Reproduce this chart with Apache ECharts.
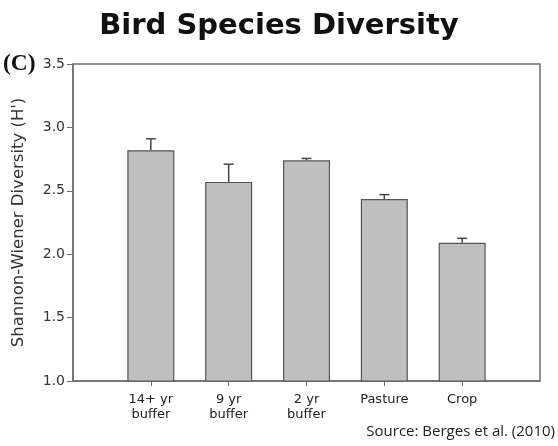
<!DOCTYPE html>
<html>
<head>
<meta charset="utf-8">
<script src="https://cdn.jsdelivr.net/npm/echarts@6/dist/echarts.min.js"></script>
<style>
html,body{margin:0;padding:0;background:#fff;}
#chart{width:558px;height:446px;}
</style>
</head>
<body>
<div id="chart"></div>
<script>
var categories = ['14+ yr\nbuffer', '9 yr\nbuffer', '2 yr\nbuffer', 'Pasture', 'Crop'];
var positions = [1, 2, 3, 4, 5];
var meanValues = [2.82, 2.57, 2.74, 2.435, 2.09];
var errorValues = [0.09, 0.14, 0.015, 0.035, 0.035];
var yTicks = [1.0, 1.5, 2.0, 2.5, 3.0, 3.5];

var barData = positions.map(function (p, i) { return [p, meanValues[i]]; });
var errData = positions.map(function (p, i) { return [p, meanValues[i], meanValues[i] + errorValues[i]]; });

var sans = '"DejaVu Sans", "Liberation Sans", Arial, sans-serif';
var chart = echarts.init(document.getElementById('chart'), null, {renderer: 'canvas'});
var axisColor = '#6e6e6e';
chart.setOption({
  animation: false,
  backgroundColor: '#fff',
  title: {
    text: 'Bird Species Diversity',
    left: 'center',
    top: 7,
    textStyle: {fontFamily: sans, fontWeight: 'bold', fontSize: 29, color: '#111'}
  },
  graphic: [
    {type: 'text', left: 3, top: 52, style: {text: '(C)', font: 'bold 23.5px "Liberation Serif", "DejaVu Serif", serif', fill: '#111'}},
    {type: 'text', right: 3, top: 424, style: {text: 'Source: Berges et al. (2010)', font: '15px "Open Sans", "Liberation Sans", sans-serif', fill: '#222'}}
  ],
  grid: {left: 73, right: 18, top: 64, bottom: 65, show: true, borderColor: axisColor, borderWidth: 1.5, backgroundColor: 'transparent'},
  xAxis: {
    type: 'value', min: 0, max: 6, interval: 1,
    splitLine: {show: false},
    axisLine: {show: true, lineStyle: {color: axisColor, width: 1.5}},
    axisTick: {show: true, length: 5, lineStyle: {color: axisColor}, customValues: positions},
    axisLabel: {
      customValues: positions,
      formatter: function (v) { var i = positions.indexOf(v); return i >= 0 ? categories[i] : ''; },
      fontFamily: sans, fontSize: 13, color: '#222', lineHeight: 15, margin: 11
    }
  },
  yAxis: {
    type: 'value', min: 1.0, max: 3.5, interval: 0.5,
    name: "Shannon-Wiener Diversity (H')",
    nameLocation: 'middle', nameGap: 46,
    nameTextStyle: {fontFamily: sans, fontSize: 16.5, color: '#333'},
    splitLine: {show: false},
    axisLine: {show: true, lineStyle: {color: axisColor, width: 1.5}},
    axisTick: {show: true, length: 6, lineStyle: {color: axisColor}},
    axisLabel: {
      formatter: function (v) { return v.toFixed(1); },
      fontFamily: sans, fontSize: 14, color: '#333', margin: 8
    }
  },
  series: [
    {
      type: 'bar',
      data: barData,
      barWidth: 47,
      itemStyle: {color: '#c0c0c0', borderColor: '#555', borderWidth: 1.2},
      z: 2
    },
    {
      type: 'custom',
      data: errData,
      z: 3,
      renderItem: function (params, api) {
        var x = api.value(0);
        var p0 = api.coord([x, api.value(1)]);
        var p1 = api.coord([x, api.value(2)]);
        var half = 5;
        var st = {stroke: '#444', lineWidth: 1.5};
        return {
          type: 'group',
          children: [
            {type: 'line', shape: {x1: p0[0], y1: p0[1], x2: p1[0], y2: p1[1]}, style: st},
            {type: 'line', shape: {x1: p1[0] - half, y1: p1[1], x2: p1[0] + half, y2: p1[1]}, style: st}
          ]
        };
      }
    }
  ]
});
</script>
</body>
</html>
